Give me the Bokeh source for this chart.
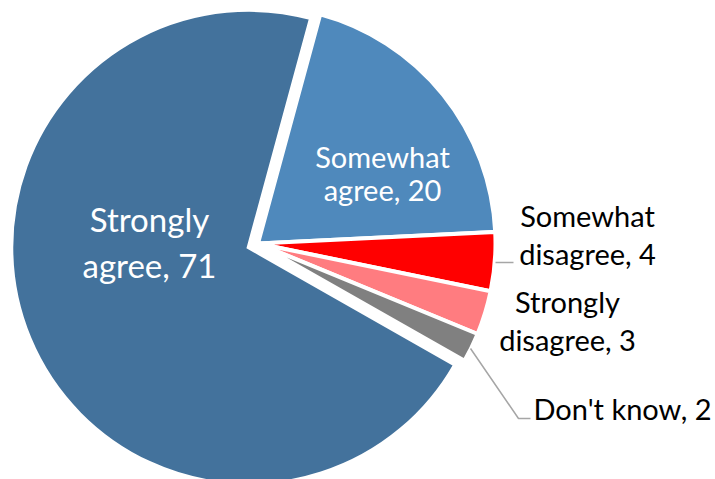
import math
from bokeh.plotting import figure
from bokeh.models import Range1d, ColumnDataSource
from bokeh.core.properties import value
from bokeh.embed import file_html
from bokeh.resources import INLINE

# ---- data ----
categories = ["Somewhat agree", "Somewhat disagree", "Strongly disagree", "Don't know", "Strongly agree"]
values = [20, 4, 3, 2, 71]

# ---- styling / layout ----
colors = ["#4F89BC", "#FF0000", "#FF7C80", "#808080", "#43729C"]
explode_px = [0, 0, 0, 0, 10]
label_color = ["white", "black", "black", "black", "white"]
label_size = [29, 29, 29, 29, 33]
# label anchor (center x, first-line baseline in page px, line pitch)
label_pos = [(382, 166, 33), (587, 225, 38), (567, 311, 38), (622, 418, 0), (149, 230, 46)]
label_lines = [["Somewhat", "agree, {}"], ["Somewhat", "disagree, {}"], ["Strongly", "disagree, {}"],
               ["Don't know, {}"], ["Strongly", "agree, {}"]]
baseline_fix = 0.34  # em, renderer baseline correction

PAGE_H = 479
W, H = 715, 479
cx, cy_page, R = 257.5, 243.0, 237.5
first_angle = 15.2  # degrees clockwise from 12 o'clock

def Y(py):
    return PAGE_H - py

p = figure(width=W, height=H, x_range=Range1d(0, W), y_range=Range1d(PAGE_H - H, PAGE_H),
           output_backend="svg", toolbar_location=None, min_border=0)
p.axis.visible = False
p.grid.visible = False
p.outline_line_color = None
p.background_fill_color = "white"
p.border_fill_color = "white"

total = float(sum(values))
xs, ys, sa, ea = [], [], [], []
acc = 0.0
for v, d in zip(values, explode_px):
    t0 = first_angle + 360.0 * acc / total
    t1 = first_angle + 360.0 * (acc + v) / total
    tm = math.radians((t0 + t1) / 2)
    xs.append(cx + d * math.sin(tm))
    ys.append(Y(cy_page) + d * math.cos(tm))
    sa.append(math.radians(90 - t0))
    ea.append(math.radians(90 - t1))
    acc += v

src = ColumnDataSource(dict(x=xs, y=ys, sa=sa, ea=ea, color=colors))
p.wedge(x="x", y="y", radius=R, start_angle="sa", end_angle="ea", direction="clock",
        fill_color="color", line_color="white", line_width=4, line_join="miter", source=src)

# leader lines
p.line(x=[495, 513], y=[Y(262), Y(262)], line_color="#A6A6A6", line_width=1.5)
p.line(x=[470, 518, 530], y=[Y(348), Y(418), Y(418)], line_color="#A6A6A6", line_width=1.5)

# labels
for cat, v, col, size, (lx, ly, pitch), lines in zip(categories, values, label_color, label_size, label_pos, label_lines):
    tx, ty, tt = [], [], []
    for i, ln in enumerate(lines):
        tx.append(lx)
        ty.append(Y(ly + i * pitch - baseline_fix * size))
        tt.append(ln.format(v))
    p.text(x=tx, y=ty, text=tt, text_align="center", text_baseline="alphabetic",
           text_color=col, text_font=value("Lato"), text_font_size=value(f"{size}px"))

open("out.html", "w").write(file_html(p, INLINE))
